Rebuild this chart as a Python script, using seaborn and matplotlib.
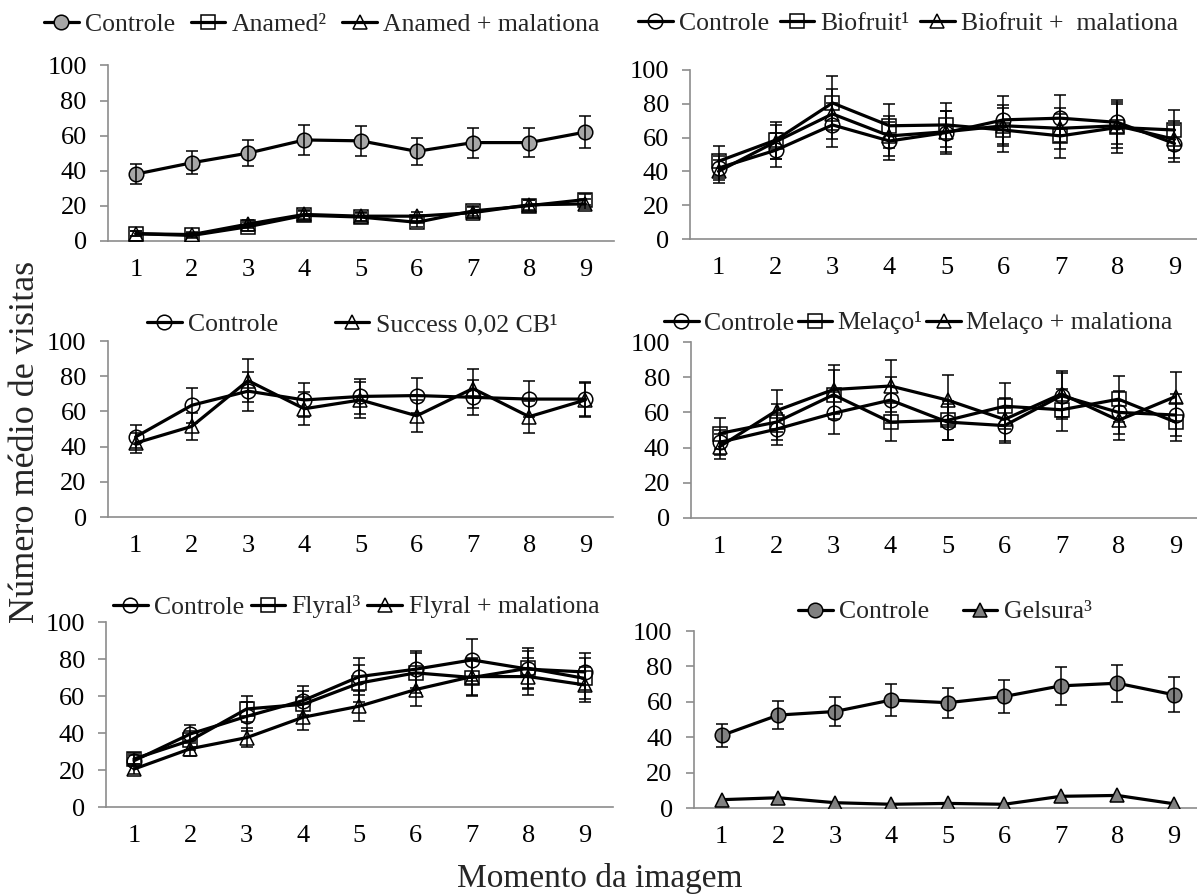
import matplotlib
matplotlib.use("Agg")
import matplotlib.pyplot as plt
import seaborn as sns
import pandas as pd
import numpy as np

# ---------------- data ----------------
momentos = [1, 2, 3, 4, 5, 6, 7, 8, 9]

# Panel A: Anamed
ctrl_a = [38, 44.5, 50, 57.5, 57, 51, 56, 56, 62]
ctrl_a_err = [5.5, 6.7, 7.3, 8.6, 8.4, 7.6, 8.6, 8.4, 9]
anamed = [4, 3, 8, 14.5, 13.5, 10.5, 17, 20, 23.5]
anamed_err = [1.5, 1.5, 2.5, 2.5, 2.5, 2.5, 3, 3, 3]
anamed_mal = [4, 3.5, 9.5, 15, 14, 14, 16, 20.5, 21]
anamed_mal_err = [1.5, 1.5, 2.5, 2.5, 2.5, 2.5, 3, 3, 3]

# Panel B: Biofruit
ctrl_b = [42, 52.5, 67.5, 58, 63, 70.5, 71.5, 69, 56.5]
ctrl_b_err = [7, 10, 13, 11, 13, 14, 14, 13, 11]
biofruit = [46, 58.5, 80.5, 67, 67.5, 64.5, 61, 66, 64.5]
biofruit_err = [9, 11, 16, 13, 13, 13, 13, 15, 12]
biofruit_mal = [40, 57.5, 74, 61, 63.5, 67, 65.5, 67, 59]
biofruit_mal_err = [7, 10, 15, 12, 12, 12, 12, 13, 11]

# Panel C: Success
ctrl_c = [45.5, 63.5, 71.5, 66.5, 68.5, 69, 68, 67, 67]
ctrl_c_err = [6.5, 10, 11, 9.5, 10, 10, 10, 10, 9.5]
success = [42, 51.5, 77.5, 61.5, 66.5, 57.5, 73, 57, 66.5]
success_err = [5.5, 7.5, 12, 9.5, 10, 9, 11, 9, 9.5]

# Panel D: Melaço
ctrl_d = [43, 50.5, 59.5, 67, 54.5, 52.5, 69.5, 60, 58.5]
ctrl_d_err = [7, 9, 12, 13, 10, 10, 13, 12, 12]
melaco = [48, 54.5, 70, 54.5, 55.5, 63.5, 61.5, 67.5, 54.5]
melaco_err = [9, 10, 14, 11, 11, 13, 12, 13, 11]
melaco_mal = [40.5, 61, 73, 75, 67, 56, 70.5, 55.5, 69]
melaco_mal_err = [7, 12, 14, 15, 14, 12, 13, 11, 14]

# Panel E: Flyral
ctrl_e = [25, 39.5, 49, 57.5, 70.5, 74.5, 79.5, 74.5, 73]
ctrl_e_err = [3, 5, 8, 8, 10, 10, 11.5, 10, 10]
flyral = [26, 36, 53, 55.5, 67, 72.5, 70, 75, 69.5]
flyral_err = [3, 5, 7, 7, 10, 11, 10, 11, 11]
flyral_mal = [20.5, 31.5, 37.5, 48.5, 54.5, 63.5, 70.5, 70.5, 66]
flyral_mal_err = [2.5, 4, 5, 7, 8, 9, 10, 10, 9.5]

# Panel F: Gelsura
ctrl_f = [41, 52.5, 54.5, 61, 59.5, 63, 69, 70.5, 64]
ctrl_f_err = [6.4, 7.9, 8.3, 8.8, 8.5, 9.3, 10.6, 10.4, 9.9]
gelsura = [4.7, 5.8, 3, 2.1, 2.6, 2.1, 6.6, 7.1, 2.4]

# ---------------- style ----------------
sns.set_style("white")
plt.rcParams["font.family"] = ["Liberation Serif", "DejaVu Serif"]

W, H = 1197, 896
fig = plt.figure(figsize=(W / 100, H / 100), dpi=100)

SPINE = "#8c8c8c"
LW = 2.3
MS = 10.5
TICKFS = 19
LEGFS = 18.5


def add_axes(left, right, top, bottom):
    return fig.add_axes([left / W, 1 - bottom / H, (right - left) / W, (bottom - top) / H])


def style_axes(ax):
    ax.set_xlim(0.5, 9.5)
    ax.set_ylim(0, 100)
    ax.set_xticks(momentos)
    ax.set_yticks([0, 20, 40, 60, 80, 100])
    for s in ["top", "right"]:
        ax.spines[s].set_visible(False)
    for s in ["left", "bottom"]:
        ax.spines[s].set_color(SPINE)
        ax.spines[s].set_linewidth(1.2)
    ax.tick_params(axis="x", length=0, pad=13, labelsize=TICKFS, colors="black")
    ax.tick_params(axis="y", length=6, width=1.2, color=SPINE, direction="out",
                   pad=9, labelsize=TICKFS, left=True, labelcolor="black")
    ax.set_xlabel("")
    ax.set_ylabel("")
    ax.set_facecolor("none")


def series(ax, y, err, marker, face):
    df = pd.DataFrame({"momento": momentos, "visitas": y})
    sns.lineplot(data=df, x="momento", y="visitas", ax=ax, color="black",
                 linewidth=LW, marker=marker, markersize=MS,
                 markerfacecolor=face, markeredgecolor="black",
                 markeredgewidth=1.1, errorbar=None, legend=False, zorder=3)
    line = ax.lines[-1]
    if err is not None:
        ax.errorbar(momentos, y, yerr=err, fmt="none", ecolor="black",
                    elinewidth=1.1, capsize=4, capthick=1.1, zorder=4)
    return line


def legend(handles, labels, x, y, colsp, tpad=0.25):
    fig.legend(handles, labels, loc="center left",
               bbox_to_anchor=(x / W, 1 - y / H), ncol=len(handles),
               frameon=False, fontsize=LEGFS, handlelength=1.35,
               handletextpad=tpad, columnspacing=colsp, borderpad=0,
               borderaxespad=0)


# Panel A
ax = add_axes(107.7, 613.5, 65.5, 240.7)
h1 = series(ax, ctrl_a, ctrl_a_err, "o", "#a6a6a6")
h2 = series(ax, anamed, anamed_err, "s", "none")
h3 = series(ax, anamed_mal, anamed_mal_err, "^", "none")
style_axes(ax)
legend([h1, h2, h3], ["Controle", "Anamed²", "Anamed + malationa"], 44, 25, 0.6)

# Panel B
ax = add_axes(690, 1203, 70, 239)
h1 = series(ax, ctrl_b, ctrl_b_err, "o", "none")
h2 = series(ax, biofruit, biofruit_err, "s", "none")
h3 = series(ax, biofruit_mal, biofruit_mal_err, "^", "none")
style_axes(ax)
legend([h1, h2, h3], ["Controle", "Biofruit¹", "Biofruit +  malationa"], 638, 24, 0.4)

# Panel C
ax = add_axes(107.5, 613.5, 341, 517)
h1 = series(ax, ctrl_c, ctrl_c_err, "o", "none")
h2 = series(ax, success, success_err, "^", "none")
style_axes(ax)
legend([h1, h2], ["Controle", "Success 0,02 CB¹"], 147, 325, 2.2)

# Panel D
ax = add_axes(691, 1204, 342, 518)
h1 = series(ax, ctrl_d, ctrl_d_err, "o", "none")
h2 = series(ax, melaco, melaco_err, "s", "none")
h3 = series(ax, melaco_mal, melaco_mal_err, "^", "none")
style_axes(ax)
legend([h1, h2, h3], ["Controle", "Melaço¹", "Melaço + malationa"], 664, 323, 0.15, 0.2)

# Panel E
ax = add_axes(105.8, 613, 622, 807)
h1 = series(ax, ctrl_e, ctrl_e_err, "o", "none")
h2 = series(ax, flyral, flyral_err, "s", "none")
h3 = series(ax, flyral_mal, flyral_mal_err, "^", "none")
style_axes(ax)
legend([h1, h2, h3], ["Controle", "Flyral³", "Flyral + malationa"], 113, 607, 0.25)

# Panel F
ax = add_axes(693.5, 1202, 631, 808)
h1 = series(ax, ctrl_f, ctrl_f_err, "o", "#808080")
h2 = series(ax, gelsura, None, "^", "#808080")
style_axes(ax)
legend([h1, h2], ["Controle", "Gelsura³"], 798, 612, 1.3)

fig.text(26 / W, 1 - 442 / H, "Número médio de visitas", rotation=90,
         ha="center", va="center", fontsize=26)
fig.text(600 / W, 1 - 878 / H, "Momento da imagem", ha="center",
         va="center", fontsize=24)

fig.savefig("out.png", dpi=100)
